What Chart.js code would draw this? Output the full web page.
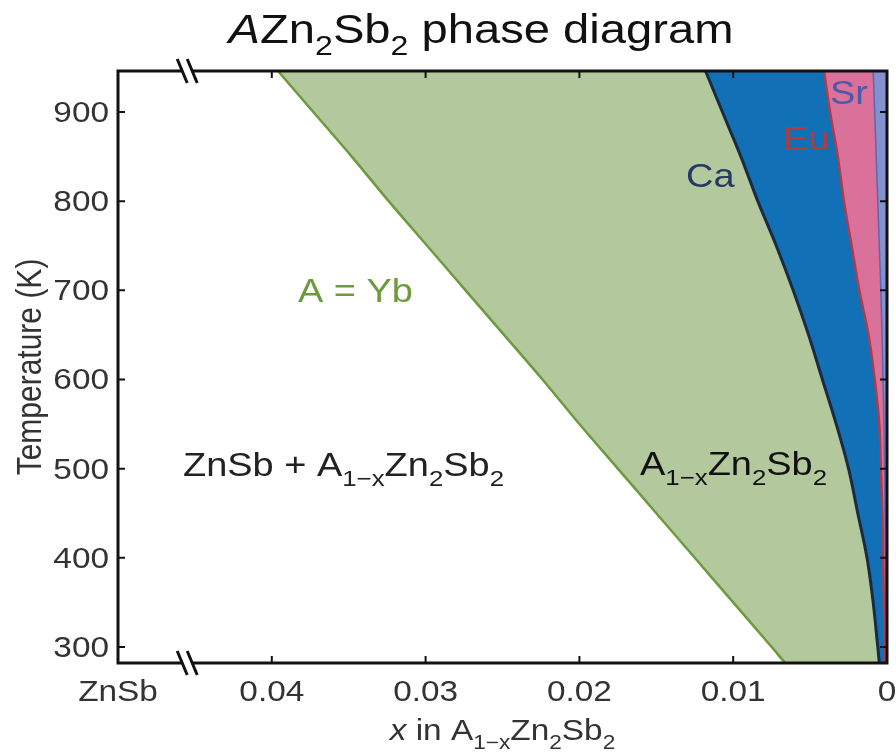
<!DOCTYPE html>
<html>
<head>
<meta charset="utf-8">
<title>AZn2Sb2 phase diagram</title>
<script src="https://cdn.jsdelivr.net/npm/chart.js@4/dist/chart.umd.min.js"></script>
<style>
  html, body { margin: 0; padding: 0; background: #fff; }
  canvas { display: block; }
</style>
</head>
<body>
<canvas id="phaseChart" width="896" height="756"></canvas>
<script>
// Temperatures (K) at which the solvus boundaries were read, top to bottom
const temps = [946, 900, 850, 800, 750, 700, 650, 600, 550, 500, 450, 400, 350, 300, 282];

// Solvus composition x in A(1-x)Zn2Sb2 for each cation A
const ybX = [0.0396, 0.0373, 0.0348, 0.0324, 0.0299, 0.0274, 0.0249, 0.0224, 0.0200, 0.0175, 0.0150, 0.0125, 0.0100, 0.0075, 0.0066];
const caX = [0.0118, 0.0107, 0.0095, 0.0084, 0.0072, 0.0061, 0.0051, 0.0042, 0.0033, 0.0025, 0.0019, 0.0013, 0.0009, 0.0006, 0.0005];
const euX = [0.0041, 0.0037, 0.0032, 0.0028, 0.0023, 0.0018, 0.0012, 0.0008, 0.0005, 0.0004, 0.0003, 0.00025, 0.0002, 0.00015, 0.00015];
const srX = [0.0009, 0.0008, 0.0007, 0.0006, 0.0005, 0.0004, 0.00032, 0.00026, 0.0002, 0.00016, 0.00013, 0.0001, 0.00008, 0.00006, 0.00005];

// Axis ticks
const xTicks = [0, 0.01, 0.02, 0.03, 0.04, 0.05];
const xTickLabels = ['0', '0.01', '0.02', '0.03', '0.04', 'ZnSb'];
const yTicks = [300, 400, 500, 600, 700, 800, 900];
const xMin = 0, xMax = 0.05, yMin = 282, yMax = 946;
const xBreak = 0.0455; // where the "//" break sits on the x axis

const FONT = '"Liberation Sans", Arial, Helvetica, sans-serif';
const STRETCH = 1.15;
const TENSION = 0.35;

// boundary line as {x, y} points
function lineOf(xs) {
    return temps.map((t, i) => ({ x: xs[i], y: t }));
}

// closed region between a boundary and x = 0
function regionOf(xs) {
    return lineOf(xs).concat([
        { x: xMin, y: temps[temps.length - 1] },
        { x: xMin, y: temps[0] }
    ]);
}

function fillSet(xs, color) {
    return { data: regionOf(xs), showLine: true, fill: 'shape', backgroundColor: color, borderWidth: 0, pointRadius: 0, tension: TENSION };
}

function lineSet(xs, color, width) {
    return { data: lineOf(xs), showLine: true, fill: false, borderColor: color, borderWidth: width, pointRadius: 0, tension: TENSION };
}

// draw text made of runs: [text, style] with style '', 'i' or 'sub'
function drawRich(ctx, parts, x, y, opts) {
    const size = opts.size;
    const align = opts.align || 0;
    ctx.save();
    ctx.translate(x, y);
    if (opts.rotate) {
        ctx.rotate(opts.rotate);
        ctx.scale(1, STRETCH);
    } else {
        ctx.scale(STRETCH, 1);
    }
    ctx.fillStyle = opts.color || '#222';
    ctx.textBaseline = 'alphabetic';
    ctx.textAlign = 'left';
    const fontFor = style => {
        const s = style === 'sub' ? size * 0.68 : size;
        return (style === 'i' ? 'italic ' : '') + s + 'px ' + FONT;
    };
    let total = 0;
    parts.forEach(([t, style]) => {
        ctx.font = fontFor(style);
        total += ctx.measureText(t).width;
    });
    let cx = -total * align;
    parts.forEach(([t, style]) => {
        ctx.font = fontFor(style);
        const dy = style === 'sub' ? size * 0.3 : 0;
        ctx.fillText(t, cx, dy);
        cx += ctx.measureText(t).width;
    });
    ctx.restore();
}

const decorPlugin = {
    id: 'decor',
    beforeDraw(chart) {
        const ctx = chart.ctx;
        ctx.save();
        ctx.fillStyle = '#fff';
        ctx.fillRect(0, 0, chart.width, chart.height);
        ctx.restore();
    },
    afterDatasetsDraw(chart) {
        const ctx = chart.ctx;
        const xs = chart.scales.x, ys = chart.scales.y;
        const { left, right, top, bottom } = chart.chartArea;

        // labels inside the plot
        drawRich(ctx, [['ZnSb + A'], ['1\u2212x', 'sub'], ['Zn'], ['2', 'sub'], ['Sb'], ['2', 'sub']], 183, 476, { size: 33 });
        drawRich(ctx, [['A'], ['1\u2212x', 'sub'], ['Zn'], ['2', 'sub'], ['Sb'], ['2', 'sub']], 640, 475, { size: 33, color: '#111' });
        drawRich(ctx, [['A = Yb']], 298, 302, { size: 33, color: '#6c9a3c' });
        drawRich(ctx, [['Ca']], 686, 187, { size: 33, color: '#243a63' });
        drawRich(ctx, [['Eu']], 783, 150, { size: 33, color: '#b43a3e' });
        drawRich(ctx, [['Sr']], 830, 104, { size: 33, color: '#4a5aa8' });

        // frame
        ctx.save();
        ctx.strokeStyle = '#111';
        ctx.lineWidth = 3;
        ctx.strokeRect(left, top, right - left, bottom - top);

        // inward tick marks
        ctx.lineWidth = 2;
        ctx.beginPath();
        xTicks.forEach(v => {
            if (v === xMin || v === xMax) return;
            const px = xs.getPixelForValue(v);
            ctx.moveTo(px, bottom); ctx.lineTo(px, bottom - 7);
            ctx.moveTo(px, top); ctx.lineTo(px, top + 7);
        });
        yTicks.forEach(v => {
            const py = ys.getPixelForValue(v);
            ctx.moveTo(left, py); ctx.lineTo(left + 7, py);
            ctx.moveTo(right, py); ctx.lineTo(right - 7, py);
        });
        ctx.stroke();

        // axis break marks on top and bottom
        const bx = xs.getPixelForValue(xBreak);
        [top, bottom].forEach(ay => {
            ctx.fillStyle = '#fff';
            ctx.beginPath();
            ctx.moveTo(bx - 10, ay - 11); ctx.lineTo(bx, ay - 11);
            ctx.lineTo(bx + 10, ay + 11); ctx.lineTo(bx, ay + 11);
            ctx.closePath();
            ctx.fill();
            ctx.strokeStyle = '#111';
            ctx.lineWidth = 3;
            ctx.beginPath();
            ctx.moveTo(bx - 10, ay - 12); ctx.lineTo(bx, ay + 12);
            ctx.moveTo(bx, ay - 12); ctx.lineTo(bx + 10, ay + 12);
            ctx.stroke();
        });
        ctx.restore();

        // tick labels
        xs.ticks.forEach((t, i) => {
            drawRich(ctx, [[xTickLabels[i]]], xs.getPixelForValue(t.value), 701, { size: 29, align: 0.5, color: '#333' });
        });
        ys.ticks.forEach(t => {
            drawRich(ctx, [[String(t.value)]], left - 9, ys.getPixelForValue(t.value) + 10, { size: 29, align: 1, color: '#333' });
        });

        // axis titles and chart title
        drawRich(ctx, [['x', 'i'], [' in A'], ['1\u2212x', 'sub'], ['Zn'], ['2', 'sub'], ['Sb'], ['2', 'sub']], (left + right) / 2, 740, { size: 29, align: 0.5, color: '#333' });
        drawRich(ctx, [['Temperature (K)']], 41, (top + bottom) / 2, { size: 30, align: 0.5, rotate: -Math.PI / 2, color: '#333' });
        drawRich(ctx, [['A', 'i'], ['Zn'], ['2', 'sub'], ['Sb'], ['2', 'sub'], [' phase diagram']], 481, 43, { size: 41, align: 0.5, color: '#111' });
    }
};

// datasets listed top-most first (Chart.js draws the first dataset last)
const datasets = [
    lineSet(srX, '#5a68b0', 1.5),
    lineSet(euX, '#b23a4c', 2.5),
    lineSet(caX, '#1b2b45', 3),
    lineSet(ybX, '#6c9a3c', 2.5),
    fillSet(srX, '#8391cc'),
    fillSet(euX, '#d9719a'),
    fillSet(caX, '#1170b6'),
    fillSet(ybX, '#b3c89d')
];

const ctx = document.getElementById('phaseChart').getContext('2d');
new Chart(ctx, {
    type: 'scatter',
    data: { datasets: datasets },
    options: {
        responsive: false,
        animation: false,
        layout: { padding: { top: 71, right: 9, left: 0, bottom: 0 } },
        plugins: {
            legend: { display: false },
            tooltip: { enabled: false },
            title: { display: false }
        },
        scales: {
            x: {
                type: 'linear',
                reverse: true,
                min: xMin,
                max: xMax,
                grid: { display: false },
                border: { display: false },
                ticks: { display: false },
                afterBuildTicks: scale => { scale.ticks = xTicks.map(v => ({ value: v })); },
                afterFit: scale => {
                    scale.height = 93;
                    scale.paddingLeft = 0; scale.paddingRight = 0;
                }
            },
            y: {
                type: 'linear',
                min: yMin,
                max: yMax,
                grid: { display: false },
                border: { display: false },
                ticks: { display: false },
                afterBuildTicks: scale => { scale.ticks = yTicks.map(v => ({ value: v })); },
                afterFit: scale => {
                    scale.width = 118;
                    scale.paddingTop = 0; scale.paddingBottom = 0;
                }
            }
        }
    },
    plugins: [decorPlugin]
});
</script>
</body>
</html>
